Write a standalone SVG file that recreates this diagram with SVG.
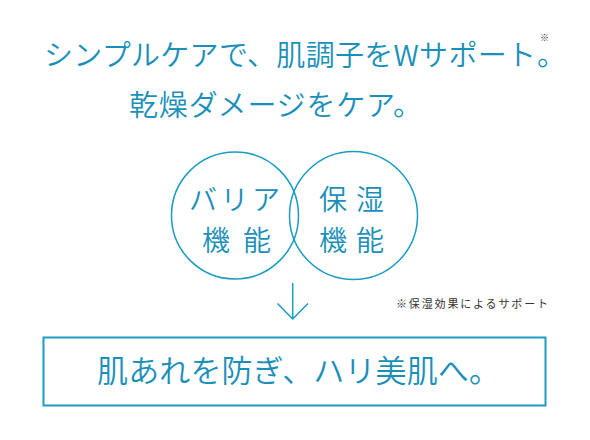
<svg xmlns="http://www.w3.org/2000/svg" width="590" height="440" viewBox="0 0 590 440">
<style>
.t{font-family:"Noto Sans CJK JP","Noto Sans CJK SC",sans-serif;fill:#1a8fba;font-weight:350}
.n{font-family:"Noto Sans CJK JP","Noto Sans CJK SC",sans-serif;fill:#333;font-weight:400}
.ln{fill:none;stroke:#1a9cc4;stroke-width:1.5}
</style>
<rect width="590" height="440" fill="#fff"/>
<g id="title">
<text class="t" x="44" y="66" font-size="29" textLength="492" lengthAdjust="spacing">シンプルケアで、肌調子をWサポート</text>
<text class="n" x="540" y="40.5" font-size="9">※</text>
<text class="t" x="537" y="66" font-size="29">。</text>
<text class="t" x="129" y="116" font-size="29" textLength="293" lengthAdjust="spacing">乾燥ダメージをケア。</text>
</g>
<g id="barrier">
<circle class="ln" cx="235" cy="215.5" r="63.5"/>
<text class="t" x="189" y="210" font-size="28" textLength="91" lengthAdjust="spacing">バリア</text>
<text class="t" x="202" y="251" font-size="28" textLength="69" lengthAdjust="spacing">機能</text>
</g>
<g id="moisture">
<circle class="ln" cx="353.5" cy="215.5" r="64"/>
<text class="t" x="319" y="210" font-size="28" textLength="65" lengthAdjust="spacing">保湿</text>
<text class="t" x="319" y="251" font-size="28" textLength="65" lengthAdjust="spacing">機能</text>
</g>
<g id="connectors">
<path class="ln" d="M292.7 283V319M277.5 303.5L292.7 319L308 303.5"/>
</g>
<g id="note">
<text class="n" x="396" y="308" font-size="11" textLength="152" lengthAdjust="spacing">※保湿効果によるサポート</text>
</g>
<g id="result">
<rect x="43.5" y="337.5" width="502" height="68" fill="none" stroke="#1a9cc4" stroke-width="2"/>
<text class="t" x="97" y="382" font-size="31" textLength="403" lengthAdjust="spacing">肌あれを防ぎ、ハリ美肌へ。</text>
</g>
</svg>
